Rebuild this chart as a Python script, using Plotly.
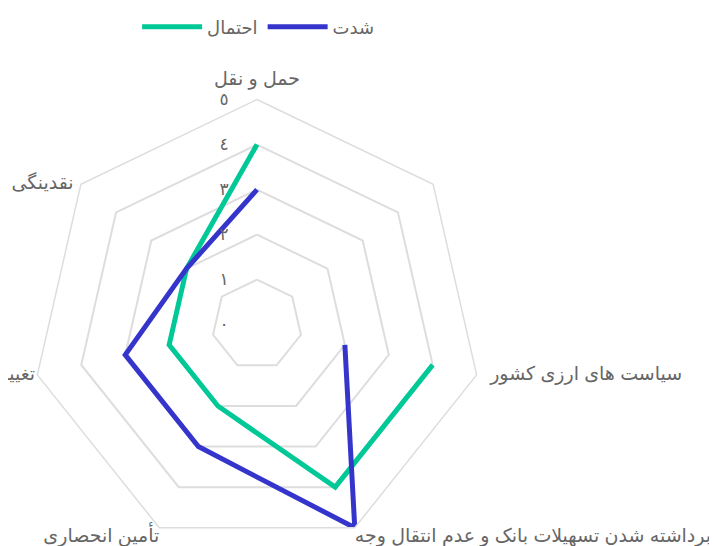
import plotly.graph_objects as go

categories = ["حمل و نقل", "نقدینگی", "تغییرات قیمت", "تأمین انحصاری",
              "برداشته شدن تسهیلات بانک و عدم انتقال وجه", "سیاست های ارزی کشور", " "]
probability = [4, 2, 2, 2, 4, 4, None]   # احتمال
severity = [3, 2, 3, 3, 5, 2, None]      # شدت
tick_vals = [0, 1, 2, 3, 4, 5]
tick_text = ["٠", "١", "٢", "٣", "٤", "٥"]
r_max = 5
label_positions = ["top center", "middle left", "middle left", "bottom left",
                   "bottom right", "middle right", "middle right"]
label_gaps = [14, 10, 2, 0, 0, 20, 20]

FONT = "Arial, 'Liberation Sans', 'DejaVu Sans', sans-serif"

fig = go.Figure()
fig.add_trace(go.Scatterpolar(r=probability, theta=categories, name="احتمال",
                              mode="lines", connectgaps=False,
                              line=dict(color="#00C896", width=5)))
fig.add_trace(go.Scatterpolar(r=severity, theta=categories, name="شدت",
                              mode="lines", connectgaps=False,
                              line=dict(color="#3535CC", width=5)))
# category (point) labels placed at the outer ring
fig.add_trace(go.Scatterpolar(r=[r_max] * len(categories), theta=categories,
                              text=categories, mode="markers+text",
                              textposition=label_positions,
                              marker=dict(size=label_gaps, color="rgba(0,0,0,0)"),
                              textfont=dict(size=19, color="#666666", family=FONT),
                              cliponaxis=False, showlegend=False, hoverinfo="skip"))

fig.update_layout(
    width=717, height=546,
    margin=dict(l=0, r=0, t=0, b=0),
    paper_bgcolor="white", plot_bgcolor="white",
    font=dict(family=FONT, color="#666666", size=19),
    showlegend=True,
    legend=dict(orientation="h", x=0.3495, xanchor="center", y=1.0178, yanchor="top",
                itemwidth=60,
                font=dict(size=18, color="#666666"), bgcolor="rgba(0,0,0,0)"),
    polar=dict(
        domain=dict(x=[19.5/717, 478.5/717], y=[4/546, 463/546]),
        bgcolor="white",
        gridshape="linear",
        angularaxis=dict(direction="counterclockwise", rotation=90,
                         showgrid=False, showline=True, linecolor="#dddddd", linewidth=1.5,
                         ticks="", showticklabels=False),
        radialaxis=dict(range=[0, r_max], angle=90, tickangle=90, side="counterclockwise",
                        tickvals=tick_vals, ticktext=tick_text,
                        showline=False, ticks="outside", ticklen=22,
                        tickcolor="rgba(0,0,0,0)", gridcolor="#dddddd", gridwidth=1.5,
                        tickfont=dict(size=17, color="#666666")),
    ),
)

fig.write_html("out.html")
